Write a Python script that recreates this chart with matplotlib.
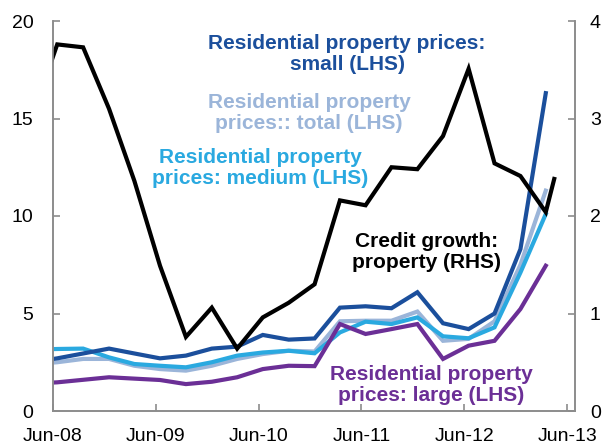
#!/usr/bin/env python

import matplotlib

matplotlib.use("Agg")
import matplotlib.pyplot as plt
import pandas as pd

plt.rcParams["font.family"] = ["Liberation Sans", "DejaVu Sans"]

# Quarterly dates, Mar-08 to Mar-13
quarters = pd.date_range("2008-03-31", "2013-03-31", freq="QE")
credit_dates = quarters.append(pd.DatetimeIndex(["2013-04-30"]))

# Credit growth: property (RHS)
credit_growth = [3.0, 3.76, 3.73, 3.10, 2.36, 1.49, 0.76, 1.06, 0.64, 0.96, 1.11,
                 1.30, 2.16, 2.11, 2.50, 2.48, 2.82, 3.51, 2.54, 2.41, 2.04, 2.38]

# Residential property prices (LHS)
prices_total = [2.4, 2.5, 2.67, 2.67, 2.32, 2.15, 2.07, 2.32, 2.67, 2.92, 3.09,
                3.05, 4.6, 4.63, 4.63, 5.1, 3.6, 3.7, 4.6, 7.5, 11.3]
prices_medium = [3.15, 3.18, 3.2, 2.75, 2.41, 2.32, 2.24, 2.5, 2.84, 3.0, 3.09,
                 2.96, 4.03, 4.58, 4.46, 4.8, 3.83, 3.73, 4.29, 7.1, 10.1]
prices_large = [1.4, 1.47, 1.6, 1.73, 1.66, 1.59, 1.38, 1.5, 1.73, 2.15, 2.32,
                2.3, 4.46, 3.95, 4.2, 4.46, 2.67, 3.35, 3.6, 5.23, 7.45]
prices_small = [2.5, 2.7, 2.95, 3.2, 2.95, 2.7, 2.84, 3.2, 3.3, 3.9, 3.66,
                3.72, 5.3, 5.37, 5.27, 6.09, 4.5, 4.2, 5.0, 8.3, 16.3]

tick_dates = pd.date_range("2008-06-15", periods=6, freq=pd.DateOffset(years=1))
tick_labels = ["Jun-08", "Jun-09", "Jun-10", "Jun-11", "Jun-12", "Jun-13"]

C_SMALL = "#1b4f9c"
C_TOTAL = "#9bb5d9"
C_MEDIUM = "#2aa9e0"
C_LARGE = "#6b2f96"
C_SPINE = "#8c8c8c"
LW = 3.0

fig = plt.figure(figsize=(6.05, 4.45), dpi=100)
ax = fig.add_axes([53 / 605, 1 - 411 / 445, 521.5 / 605, 390 / 445])
ax2 = ax.twinx()

ax.plot(quarters, prices_total, color=C_TOTAL, lw=LW, solid_joinstyle="miter")
ax.plot(quarters, prices_medium, color=C_MEDIUM, lw=LW, solid_joinstyle="miter")
ax.plot(quarters, prices_large, color=C_LARGE, lw=LW, solid_joinstyle="miter")
ax.plot(quarters, prices_small, color=C_SMALL, lw=LW, solid_joinstyle="miter")
ax2.plot(credit_dates, credit_growth, color="black", lw=LW, solid_joinstyle="miter")

ax.set_xlim(pd.Timestamp("2008-06-15"), pd.Timestamp("2013-07-11"))
ax.set_ylim(0, 20)
ax2.set_ylim(0, 4)
ax.set_yticks([0, 5, 10, 15, 20])
ax2.set_yticks([0, 1, 2, 3, 4])
ax.set_xticks(tick_dates)
ax.set_xticklabels(tick_labels)

for a in (ax, ax2):
    a.spines["top"].set_visible(False)
    for s in ("left", "right", "bottom"):
        a.spines[s].set_color(C_SPINE)
        a.spines[s].set_linewidth(1.2)
    a.tick_params(direction="in", length=5, width=1.2, color=C_SPINE,
                  labelsize=14, labelcolor="black")
ax.tick_params(axis="y", pad=14)
ax.tick_params(axis="x", pad=12)
ax2.tick_params(axis="y", pad=11)

labels = [
    ("Residential property prices:\nsmall (LHS)", C_SMALL, 0.564, 0.915),
    ("Residential property\nprices:: total (LHS)", C_TOTAL, 0.491, 0.764),
    ("Residential property\nprices: medium (LHS)", C_MEDIUM, 0.397, 0.623),
    ("Credit growth:\nproperty (RHS)", "black", 0.717, 0.408),
    ("Residential property\nprices: large (LHS)", C_LARGE, 0.725, 0.067),
]
for text, color, x, y in labels:
    ax2.text(x, y, text, transform=ax.transAxes, color=color, fontsize=15,
             fontweight="bold", ha="center", va="center", linespacing=1.1)

fig.savefig("out.png", dpi=100)
